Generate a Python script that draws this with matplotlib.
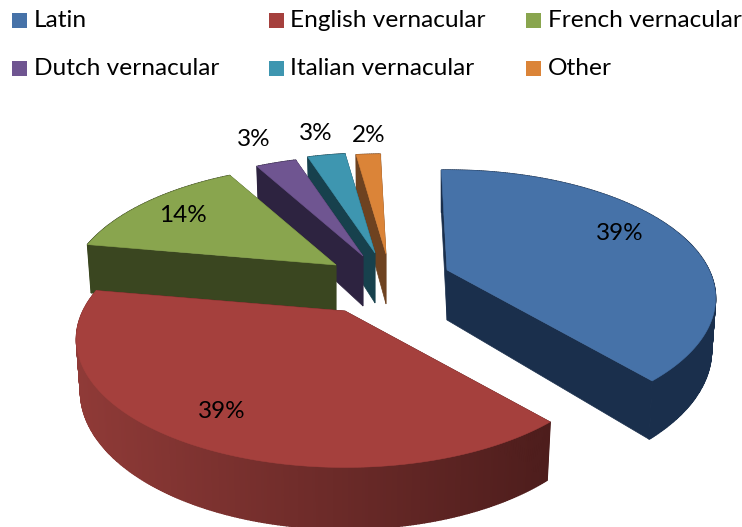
import numpy as np
import matplotlib
matplotlib.use("Agg")
import matplotlib.pyplot as plt
from matplotlib.patches import Polygon, Rectangle
from matplotlib.colors import to_rgb

categories = ["Latin", "English vernacular", "French vernacular", "Dutch vernacular", "Italian vernacular", "Other"]
values = [39.1, 39.1, 14.2, 3.0, 2.8, 1.8]
labels = ["39%", "39%", "14%", "3%", "3%", "2%"]
top_colors = ["#4672a8", "#a5403d", "#89a54e", "#6f5591", "#3e96b0", "#db8438"]
wall_colors = ["#1a2f4c", "#4d1d1c", "#3a4620", "#2d2340", "#17414d", "#6e4220"]
apexes = [(447, 270), (345, 311), (336, 265), (363, 256), (375, 253), (386, 254)]
label_pos = [(620, 234), (222, 412), (183, 216), (254, 140), (316, 133), (369, 135)]
legend_pos = [(12, 20.5), (269, 20.5), (526, 20.5), (12, 68.5), (269, 68.5), (526, 68.5)]
draw_order = [5, 4, 3, 2, 0, 1]

Rx, Ry, K, DEPTH, BOTTOM_SCALE = 262, 122, 0.22, 50, 0.985
START = -1.5

plt.rcParams["font.family"] = ["Lato", "DejaVu Sans"]
fig = plt.figure(figsize=(7.42, 5.27), dpi=100)
ax = fig.add_axes([0, 0, 1, 1])
ax.set_xlim(0, 742)
ax.set_ylim(527, 0)
ax.axis("off")


def project(apex, theta, r=1.0, bottom=False):
    t = np.radians(theta)
    u, v = r * np.sin(t), r * np.cos(t)
    s = 1 / (1 + K * v)
    x, y = Rx * u * s, -Ry * v * s
    if bottom:
        x, y = x * BOTTOM_SCALE, y * BOTTOM_SCALE + DEPTH * s
    return np.column_stack([apex[0] + x, apex[1] + y])


def mix(c1, c2, f):
    return tuple((1 - f) * a + f * b for a, b in zip(to_rgb(c1), to_rgb(c2)))


bounds = START + np.cumsum([0] + values) * 360 / sum(values)
for rank, i in enumerate(draw_order):
    a0, a1 = bounds[i], bounds[i + 1]
    apex = apexes[i]
    z = rank + 1
    th = np.linspace(a0, a1, max(int(a1 - a0) * 2, 12))
    # radial walls
    for a in (a0, a1):
        p1 = project(apex, a)[0]
        p2 = project(apex, a, bottom=True)[0]
        b = project(apex, a, r=0, bottom=True)[0]
        ax.add_patch(Polygon([apex, p1, p2, b], fc=wall_colors[i], ec=wall_colors[i], lw=0.5, zorder=z))
    # outer wall, shaded strip by strip
    for j in range(len(th) - 1):
        pts = np.vstack([project(apex, th[j:j + 2]),
                         project(apex, th[j:j + 2], bottom=True)[::-1]])
        x = np.mean(pts[:, 0])
        col = mix("#8f3a37", wall_colors[i], np.clip((x - 80) / 470, 0, 1)) if i == 1 else wall_colors[i]
        ax.add_patch(Polygon(pts, fc=col, ec=col, lw=1.0, zorder=z))
    # top face
    ax.add_patch(Polygon(np.vstack([[apex], project(apex, th)]), fc=top_colors[i],
                         ec=top_colors[i], lw=0.4, zorder=z + 0.5))

for txt, (x, y) in zip(labels, label_pos):
    ax.text(x, y, txt, ha="center", va="center", fontsize=17.5, color="black", zorder=20)

for name, col, (x, y) in zip(categories, top_colors, legend_pos):
    ax.add_patch(Rectangle((x, y - 7.5), 15, 15, fc=col, ec="none", zorder=20))
    ax.text(x + 21.5, y, name, ha="left", va="center", fontsize=17.6, color="black", zorder=20)

fig.savefig("out.png", dpi=100)
